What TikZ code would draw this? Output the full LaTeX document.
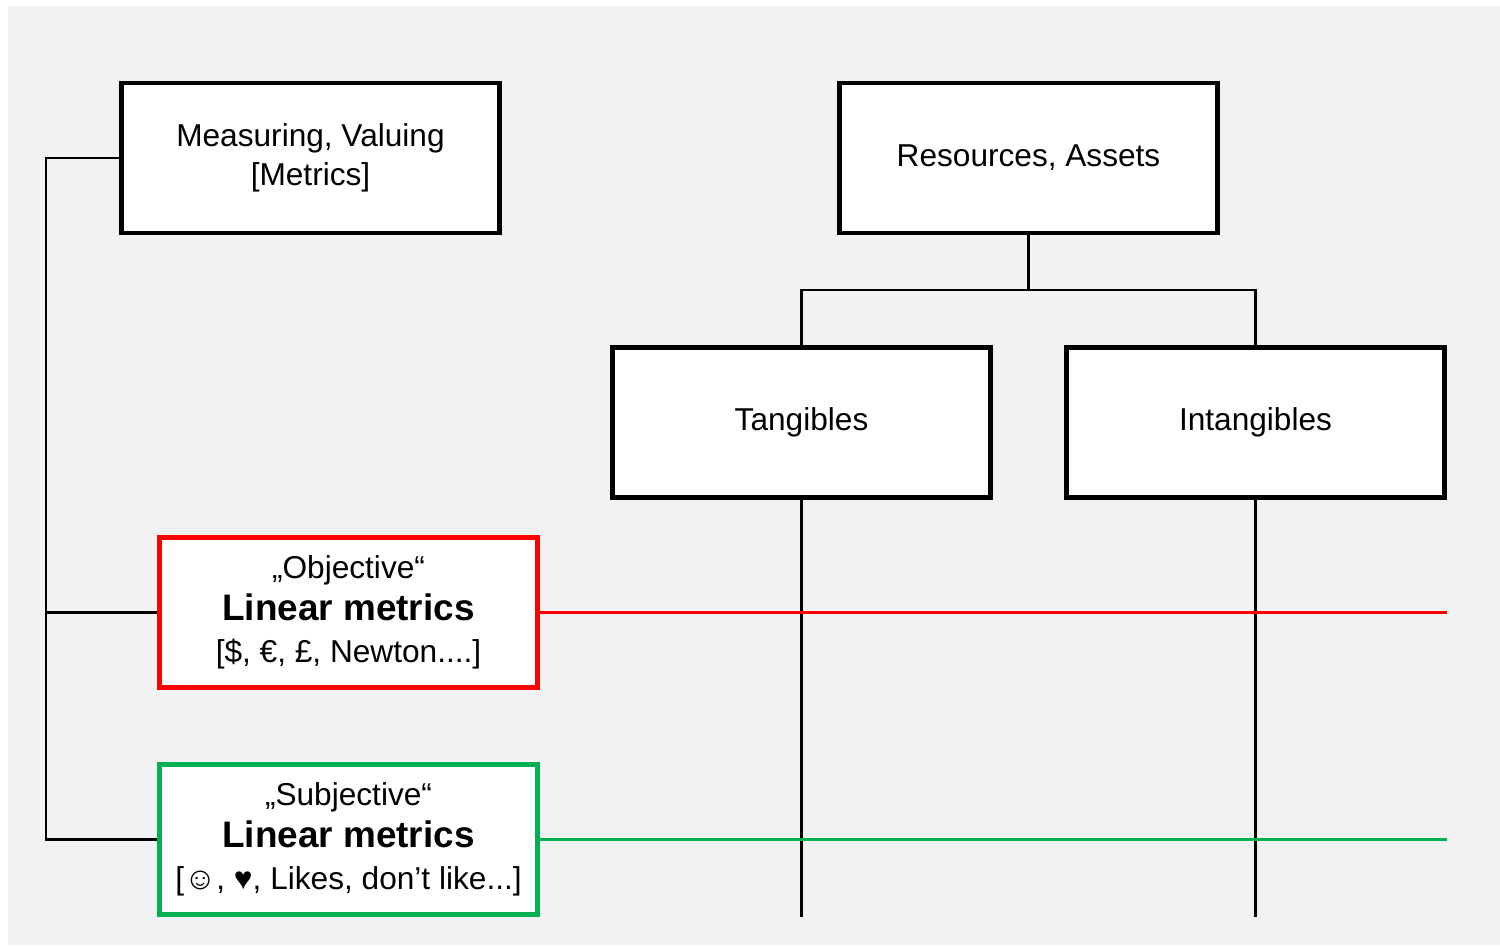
\documentclass[tikz,border=0pt]{standalone}
\usepackage{fontspec}
\setmainfont{Liberation Sans}
\usepackage{xcolor}
\usetikzlibrary{calc}

\definecolor{bggray}{HTML}{F2F2F2}
\definecolor{okgreen}{HTML}{00B050}

\begin{document}
\begin{tikzpicture}[x=0.02cm, y=-0.02cm,
    box/.style={draw, line width=2.7pt, fill=white, minimum width=7.56cm, minimum height=3.0cm, align=center, font=\fontsize{18}{22}\selectfont},
    link/.style={line width=1.4pt},
    bigtxt/.style={font=\fontsize{18}{24}\selectfont}]

\useasboundingbox (0,0) rectangle (1500,947);
\fill[bggray] (8,6) rectangle (1500,945);

\node[box] (measure) at (310.5,158) {Measuring, Valuing\\{[}Metrics{]}};
\node[box] (res) at (1028.5,158) {Resources, Assets};
\node[box] (tang) at (801.5,422.5) {Tangibles};
\node[box] (intang) at (1255.5,422.5) {Intangibles};
\node[box, bigtxt, draw=red] (obj) at (348.5,612.5)
  {„Objective“\\{\bfseries\fontsize{21}{24}\selectfont Linear metrics}\\{[}\$, €, £, Newton....{]}};
\node[box, bigtxt, draw=okgreen] (subj) at (348.5,839.5)
  {„Subjective“\\{\bfseries\fontsize{21}{24}\selectfont Linear metrics}\\{[}☺, ♥, Likes, don’t like...{]}};

\coordinate (spine) at (46,158);
\coordinate (fork) at (1028.5,290);

% tree under the resources
\draw[link] (res.south) -- (fork);
\draw[link] (tang.north) |- (fork) -| (intang.north);
\draw[link] (tang.south) -- (tang.south |- subj.south);
\draw[link] (intang.south) -- (intang.south |- subj.south);

% metrics on the left
\draw[link] (measure.west) -- (spine) |- (subj.west);
\draw[link] (obj.west) -- (obj.west -| spine);

\draw[link, red] (obj.east) -- (obj.east -| intang.east);
\draw[link, okgreen] (subj.east) -- (subj.east -| intang.east);

\end{tikzpicture}
\end{document}
